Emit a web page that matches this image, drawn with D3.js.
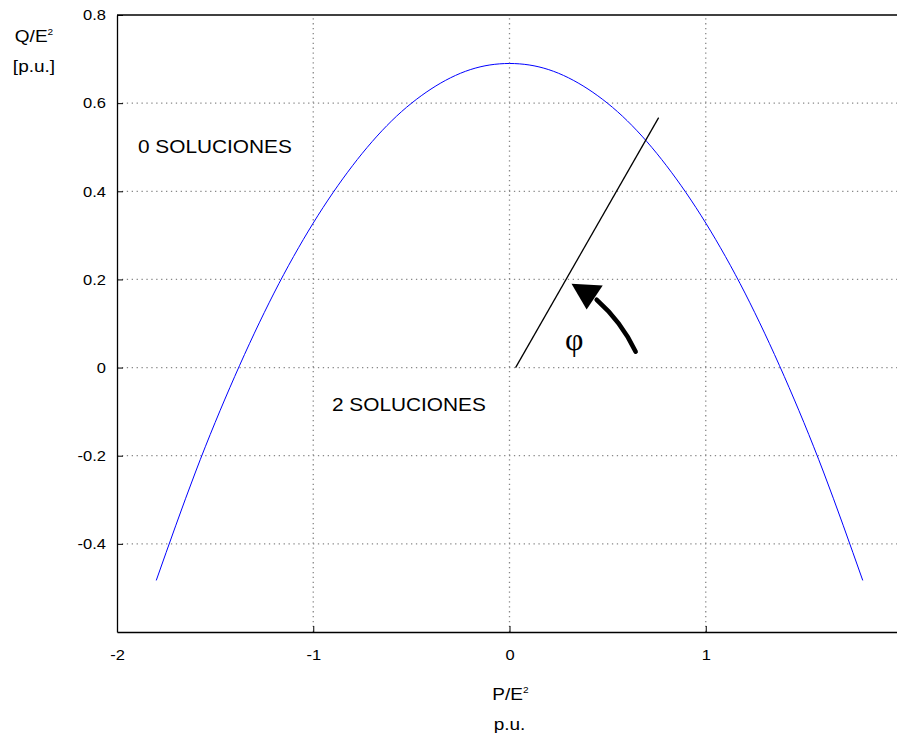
<!DOCTYPE html>
<html>
<head>
<meta charset="utf-8">
<script src="https://cdn.jsdelivr.net/npm/d3@7"></script>
<style>
  body { margin: 0; background: #fff; }
  text { font-family: "Liberation Sans", Arial, sans-serif; }
</style>
</head>
<body>
<div id="chart"></div>
<script>
// curve (P/E², Q/E²)
const pValues = [-1.8, -1.6, -1.4, -1.2, -1.0, -0.8, -0.6, -0.4, -0.2, 0, 0.2, 0.4, 0.6, 0.8, 1.0, 1.2, 1.4, 1.6, 1.8];
const qValues = [-0.483, -0.237, -0.02, 0.169, 0.328, 0.458, 0.56, 0.632, 0.676, 0.69, 0.676, 0.632, 0.56, 0.458, 0.328, 0.169, -0.02, -0.237, -0.483];
const xTicks = [-2, -1, 0, 1];
const yTicks = [-0.4, -0.2, 0, 0.2, 0.4, 0.6, 0.8];
// angle line and arrow, in data units
const phiLine = [[0.031, 0], [0.76, 0.567]];
const arrowPath = [[0.643, 0.036], [0.571, 0.104], [0.444, 0.154]];
const arrowHead = [[0.316, 0.19], [0.475, 0.186], [0.393, 0.132]];
const phiPos = [0.33, 0.04];

const width = 897, height = 733;
const margin = { top: 15, right: -5, bottom: 101, left: 117 };

const svg = d3.select("#chart").append("svg")
  .attr("width", width)
  .attr("height", height);

const x = d3.scaleLinear().domain([-2, 2]).range([margin.left, width - margin.right]);
const y = d3.scaleLinear().domain([-0.6, 0.8]).range([height - margin.bottom, margin.top]);

// text in the picture is a little widened
function label(px, py, size, anchor, sx) {
  return svg.append("text")
    .attr("transform", `translate(${px},${py}) scale(${sx},1)`)
    .attr("text-anchor", anchor)
    .attr("font-size", size);
}

// grid
svg.append("g")
  .selectAll("line")
  .data(xTicks.filter(d => d > -2))
  .join("line")
  .attr("x1", d => x(d)).attr("x2", d => x(d))
  .attr("y1", y(-0.6)).attr("y2", y(0.8))
  .attr("stroke", "#888").attr("stroke-width", 1.3)
  .attr("stroke-dasharray", "1.3,3.6");

svg.append("g")
  .selectAll("line")
  .data(yTicks.filter(d => d < 0.8))
  .join("line")
  .attr("x1", x(-2)).attr("x2", width)
  .attr("y1", d => y(d)).attr("y2", d => y(d))
  .attr("stroke", "#888").attr("stroke-width", 1.3)
  .attr("stroke-dasharray", "1.3,3.6");

const fmtX = d => String(d);
const fmtY = d => d === 0 ? "0" : d3.format(".1f")(d).replace("−", "-");

// axes (ticks inside)
const xAxis = svg.append("g")
  .attr("transform", `translate(0,${y(-0.6)})`)
  .call(d3.axisBottom(x).tickValues(xTicks).tickFormat(fmtX).tickSizeInner(-6).tickSizeOuter(0));
xAxis.select(".domain").attr("stroke", "#000").attr("stroke-width", 1.3);
xAxis.selectAll(".tick text")
  .attr("font-size", 15).attr("y", 28).attr("dy", 0).attr("fill", "#000")
  .attr("transform", "scale(1.1,1)");

const yAxis = svg.append("g")
  .attr("transform", `translate(${x(-2)},0)`)
  .call(d3.axisLeft(y).tickValues(yTicks).tickFormat(fmtY).tickSizeInner(-6).tickSizeOuter(0));
yAxis.select(".domain").attr("stroke", "#000").attr("stroke-width", 1.3);
yAxis.selectAll(".tick text")
  .attr("font-size", 15).attr("x", -10).attr("fill", "#000")
  .attr("transform", "scale(1.1,1)");

// top frame
svg.append("line")
  .attr("x1", x(-2)).attr("x2", width)
  .attr("y1", y(0.8)).attr("y2", y(0.8))
  .attr("stroke", "#000").attr("stroke-width", 1.3);

// curve
const curveData = pValues.map((p, i) => [p, qValues[i]]);
svg.append("path")
  .datum(curveData)
  .attr("fill", "none")
  .attr("stroke", "#0000ff")
  .attr("stroke-width", 1)
  .attr("d", d3.line().x(d => x(d[0])).y(d => y(d[1])).curve(d3.curveNatural));

// angle line
svg.append("line")
  .attr("x1", x(phiLine[0][0])).attr("y1", y(phiLine[0][1]))
  .attr("x2", x(phiLine[1][0])).attr("y2", y(phiLine[1][1]))
  .attr("stroke", "#000").attr("stroke-width", 1.3);

// curved arrow
const [a0, a1, a2] = arrowPath;
svg.append("path")
  .attr("d", `M${x(a0[0])},${y(a0[1])} Q${x(a1[0])},${y(a1[1])} ${x(a2[0])},${y(a2[1])}`)
  .attr("fill", "none").attr("stroke", "#000").attr("stroke-width", 4.5)
  .attr("stroke-linecap", "round");
svg.append("path")
  .attr("d", "M" + arrowHead.map(d => `${x(d[0])},${y(d[1])}`).join("L") + "Z")
  .attr("fill", "#000");

svg.append("text")
  .attr("x", x(phiPos[0])).attr("y", y(phiPos[1]))
  .attr("text-anchor", "middle")
  .attr("font-size", 32)
  .style("font-family", "'Liberation Serif', serif")
  .text("φ");

// region labels
label(138, y(0.5) + 6, 17.5, "start", 1.19).text("0 SOLUCIONES");
label(332, y(-0.085) + 6, 17.5, "start", 1.19).text("2 SOLUCIONES");

// axis titles
const yt = label(34, 42, 17, "middle", 1.12);
yt.append("tspan").text("Q/E");
yt.append("tspan").attr("font-size", 9).attr("dy", "-0.8em").text("2");
label(34, 72, 17, "middle", 1.12).text("[p.u.]");

const xt = label(x(0) + 1, 700, 17, "middle", 1.12);
xt.append("tspan").text("P/E");
xt.append("tspan").attr("font-size", 9).attr("dy", "-0.8em").text("2");
label(x(0), 730, 17, "middle", 1.12).text("p.u.");
</script>
</body>
</html>
